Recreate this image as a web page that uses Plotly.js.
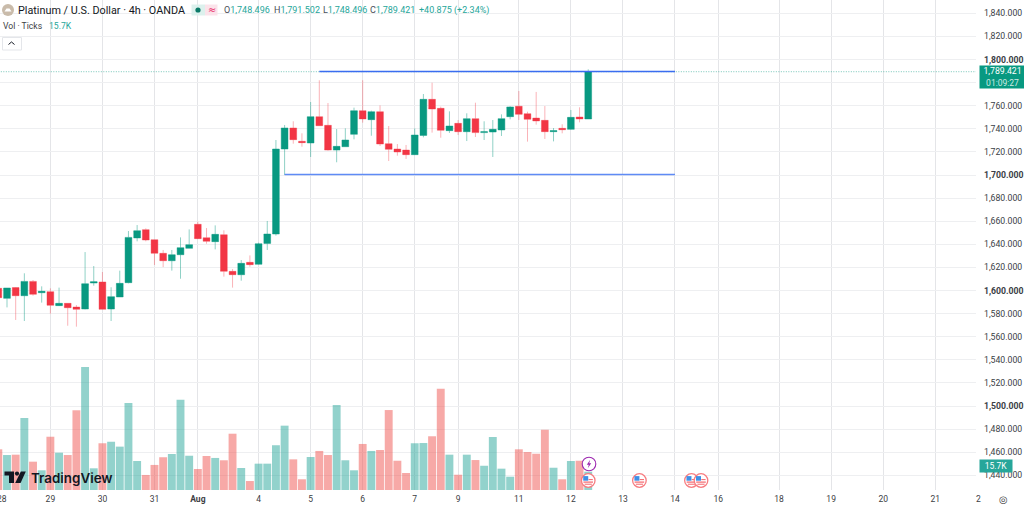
<!DOCTYPE html>
<html><head><meta charset="utf-8">
<script src="https://cdn.plot.ly/plotly-3.0.1.min.js"></script>
<style>html,body{margin:0;padding:0;background:#fff;overflow:hidden}#c{width:1024px;height:506px}</style>
</head><body><div id="c"></div>
<script>
const opens=[1601.9,1593.2,1602.5,1595.5,1607.9,1598.1,1599.0,1586.9,1588.9,1585.7,1584.0,1606.5,1607.4,1584.0,1594.4,1606.8,1645.5,1652.7,1644.0,1632.2,1625.8,1631.0,1636.5,1657.3,1645.7,1642.3,1648.3,1616.6,1613.7,1624.4,1622.7,1640.8,1648.9,1722.5,1740.7,1729.2,1727.7,1750.5,1743.0,1721.6,1724.5,1735.2,1755.7,1747.9,1754.8,1727.1,1722.5,1721.6,1717.6,1734.3,1765.5,1757.7,1738.4,1744.7,1737.5,1748.8,1736.7,1737.2,1739.0,1750.5,1759.5,1753.1,1749.3,1747.3,1737.5,1740.4,1739.5,1750.2,1748.496];
const highs=[1601.9,1602.2,1602.8,1614.9,1609.1,1603.6,1601.9,1602.5,1588.9,1587.4,1633.3,1621.2,1616.0,1602.8,1617.2,1651.5,1656.7,1653.8,1644.0,1635.1,1635.1,1646.0,1652.9,1659.6,1654.1,1656.4,1652.1,1618.6,1626.4,1630.4,1641.4,1660.2,1730.3,1743.3,1746.5,1736.1,1763.2,1782.0,1762.3,1739.8,1740.4,1758.3,1782.0,1755.7,1760.3,1742.4,1726.8,1726.0,1740.4,1770.1,1779.9,1759.2,1755.1,1747.6,1753.4,1762.6,1746.5,1747.6,1752.5,1759.5,1772.7,1754.8,1771.9,1759.7,1740.7,1743.9,1756.3,1758.6,1791.502];
const lows=[1593.8,1585.4,1574.5,1573.6,1595.5,1589.5,1579.9,1586.6,1569.5,1568.7,1583.7,1604.2,1583.7,1573.6,1594.4,1606.2,1642.6,1642.6,1622.1,1620.3,1617.2,1610.2,1636.5,1644.6,1640.5,1635.6,1612.0,1602.5,1608.5,1620.6,1622.4,1635.1,1647.5,1700.0,1727.1,1724.5,1715.6,1742.7,1721.1,1711.0,1724.5,1730.9,1745.3,1734.0,1725.1,1712.1,1716.7,1713.9,1717.3,1732.6,1736.7,1732.3,1736.4,1734.6,1729.4,1732.9,1730.3,1715.6,1733.8,1748.2,1747.6,1728.9,1743.6,1731.2,1729.1,1736.1,1739.2,1745.6,1748.496];
const closes=[1593.8,1602.2,1595.5,1607.9,1596.7,1599.3,1587.2,1588.9,1585.1,1583.7,1605.9,1607.6,1583.7,1594.7,1606.2,1646.0,1651.8,1643.7,1632.2,1625.8,1631.0,1637.1,1639.7,1644.9,1642.6,1648.6,1616.6,1613.7,1623.5,1622.4,1640.5,1648.9,1722.5,1740.7,1730.6,1728.0,1750.5,1742.7,1721.6,1724.8,1730.3,1755.7,1748.5,1754.8,1726.8,1722.2,1719.9,1717.6,1734.6,1765.5,1757.1,1738.7,1742.4,1737.5,1748.8,1736.7,1737.5,1739.5,1748.8,1758.9,1752.5,1748.2,1746.8,1737.5,1738.4,1739.2,1749.9,1748.5,1789.421];
const volumesK=[34.9,30.0,30.3,61.8,24.3,16.9,45.7,32.0,30.0,68.4,105.5,18.6,40.1,41.4,37.2,74.6,24.9,12.9,21.5,28.1,30.9,77.5,29.4,18.0,29.2,27.5,25.5,48.3,18.9,7.7,22.6,22.6,38.4,55.2,26.3,9.2,28.3,33.5,30.0,72.9,25.5,16.9,39.5,33.5,34.3,68.6,25.1,14.6,40.1,40.3,46.1,86.9,30.3,13.1,30.3,25.7,20.8,45.5,18.3,11.4,34.9,32.6,31.1,51.7,19.1,9.2,24.9,25.1,15.7];
const barIndex=closes.map((_,i)=>i-1);
const dateTickPos=[5,11,17,22,29,35,41,47,52,59,65,71,77,82,89,95,101,107];
const dateTickText=['29','30','31','<b>Aug</b>','4','5','6','7','9','11','12','13','14','16','18','19','20','21'];
const priceTicks=[1440,1460,1480,1500,1520,1540,1560,1580,1600,1620,1640,1660,1680,1700,1720,1740,1760,1780,1800,1820,1840];
const priceTickText=['1,440.000','1,460.000','1,480.000','<b>1,500.000</b>','1,520.000','1,540.000','1,560.000','1,580.000','<b>1,600.000</b>','1,620.000','1,640.000','1,660.000','1,680.000','<b>1,700.000</b>','1,720.000','1,740.000','1,760.000','','<b>1,800.000</b>','1,820.000','1,840.000'];
const resistanceX=[36,77], resistanceY=[1789.6,1789.6];
const supportX=[32,77], supportY=[1700.4,1700.4];
const lastPriceX=[-1,112], lastPriceY=[1789.421,1789.421];
const eventPos=[67,72.9,78.9,80];

const W=976,H=490;
const px=x=>x/W, py=y=>(H-y)/H;
const FONT='Roboto, sans-serif', INK='#131722', UP='#089981', DOWN='#F23645', LABEL='#3c4043';
const xToPx=i=>7+i*8.675;

function P(d,o){return Object.assign({type:'path',xref:'paper',yref:'paper',path:d,line:{width:0},layer:'above'},o);}
function pt(x,y){return px(x).toFixed(5)+','+py(y).toFixed(5);}
function poly(a){return 'M'+a.map(p=>pt(p[0],p[1])).join(' L')+' Z';}
function open(a){return 'M'+a.map(p=>pt(p[0],p[1])).join(' L');}
function circle(cx,cy,r,fill,lc,lw){return {type:'circle',xref:'paper',yref:'paper',x0:px(cx-r),x1:px(cx+r),y0:py(cy+r),y1:py(cy-r),fillcolor:fill,line:{color:lc||fill,width:lw||0},layer:'above'};}
function rect(x0,y0,x1,y1,fill,lc,lw){return {type:'rect',xref:'paper',yref:'paper',x0:px(x0),x1:px(x1),y0:py(y1),y1:py(y0),fillcolor:fill,line:{color:lc||fill,width:lw||0},layer:'above'};}

const shapes=[];
shapes.push(circle(8,10,6,'#c9bbaa'));
shapes.push(P(poly([[4.5,11.5],[6.5,8.5],[9.5,8.5],[11.5,11.5]]),{fillcolor:'#ffffff'}));
shapes.push(rect(191.5,4.5,205,15.5,'#dcf1ed'));
shapes.push(rect(205,4.5,217.5,15.5,'#fbe3ea'));
shapes.push(circle(198,10,2.6,'#0b7a68'));
shapes.push(rect(2.5,37.5,21.5,50,'#ffffff','#e4e6ea',1));
shapes.push(P(open([[8.5,44.5],[11.5,42],[14.5,44.5]]),{line:{color:INK,width:1}}));
shapes.push(P(poly([[4.5,471.5],[14,471.5],[14,483],[9,483],[9,475.5],[4.5,475.5]]),{fillcolor:INK}));
shapes.push(circle(17,473.6,2.1,INK));
shapes.push(P(poly([[20.8,471.5],[25.8,471.5],[20.6,483],[15.2,483]]),{fillcolor:INK}));
eventPos.forEach(i=>{
  const cx=xToPx(i),cy=480.5;
  shapes.push(circle(cx,cy,6.8,'#ffffff','#f77c80',1.3));
  shapes.push(rect(cx-4.8,cy+1,cx+4.8,cy+2.2,'#f4646a'));
  shapes.push(rect(cx-3.6,cy+3.2,cx+3.6,cy+4.2,'#f4646a'));
  shapes.push(rect(cx+0.3,cy-1.4,cx+4.6,cy-0.4,'#f4646a'));
  shapes.push(rect(cx-5,cy-4.4,cx+0,cy+0.2,'#3f8fe6'));
});
shapes.push(circle(589,464,6.8,'#ffffff','#9c27b0',1.1));
shapes.push(P(poly([[590.2,459.8],[586.8,464.8],[588.8,464.8],[587.8,468.2],[591.2,463.2],[589.2,463.2]]),{fillcolor:'#9c27b0'}));

const ann=(text,x,y,o)=>Object.assign({xref:'paper',yref:'paper',x:px(x),y:py(y),text,showarrow:false,xanchor:'left',yanchor:'middle',font:{family:FONT,size:9,color:INK},borderpad:0},o||{});
const g=s=>'<span style="color:#26a69a">'+s+'</span>';
const annotations=[
 ann('Platinum / U.S. Dollar · 4h · OANDA',17,10,{font:{family:FONT,size:10.8,color:INK}}),
 ann('≈',206.5,9.5,{font:{family:'DejaVu Sans',size:10,color:'#e91e63'}}),
 ann('O'+g('1,748.496'),223,10,{font:{family:FONT,size:9,color:'#4a4e57'}}),
 ann('H'+g('1,791.502'),272.7,10,{font:{family:FONT,size:9,color:'#4a4e57'}}),
 ann('L'+g('1,748.496'),321.7,10,{font:{family:FONT,size:9,color:'#4a4e57'}}),
 ann('C'+g('1,789.421'),369,10,{font:{family:FONT,size:9,color:'#4a4e57'}}),
 ann(g('+40.875 (+2.34%)'),418,10,{font:{family:FONT,size:9,color:'#26a69a'}}),
 ann('Vol · Ticks',2,26,{font:{family:FONT,size:8.6,color:'#3c4043'}}),
 ann('15.7K',48,26,{font:{family:FONT,size:8.6,color:'#26a69a'}}),
 ann('TradingView',29.5,477.5,{font:{family:'Inter, sans-serif',size:13.4,color:INK,weight:600}}),
 ann('28',-4.5,499,{font:{family:FONT,size:8.5,color:LABEL}}),
 ann('2',974.5,499,{font:{family:FONT,size:8.5,color:LABEL}}),
 ann('◎',998,499,{font:{family:'DejaVu Sans',size:10,color:'#3c4043'}}),
 ann('1,789.421<br><span style="font-size:8.5px;color:#cfe9e3">01:09:27</span>',979,76.8,{width:45,height:22,align:'center',bgcolor:UP,font:{family:FONT,size:8.7,color:'#ffffff'},xanchor:'left'}),
 ann('15.7K',979,466,{width:32,height:12,align:'center',bgcolor:'#26a69a',font:{family:FONT,size:8.5,color:'#ffffff'}})
];

const traces=[
 {type:'bar',x:barIndex,y:volumesK,yaxis:'y2',hoverinfo:'skip',
  marker:{color:closes.map((c,i)=>c>=opens[i]?'rgba(38,166,154,0.5)':'rgba(239,83,80,0.5)'),line:{width:0}}},
 {type:'scatter',mode:'lines',x:lastPriceX,y:lastPriceY,hoverinfo:'skip',line:{color:'rgba(8,153,129,0.55)',width:1,dash:'1px,1.5px'}},
 {type:'candlestick',x:barIndex,open:opens,high:highs,low:lows,close:closes,hoverinfo:'skip',whiskerwidth:0,
  increasing:{line:{color:'rgba(8,153,129,0.45)',width:1},fillcolor:UP},
  decreasing:{line:{color:'rgba(242,54,69,0.38)',width:1},fillcolor:DOWN}},
 {type:'scatter',mode:'lines',x:resistanceX,y:resistanceY,hoverinfo:'skip',line:{color:'#3a6df0',width:1.3}},
 {type:'scatter',mode:'lines',x:supportX,y:supportY,hoverinfo:'skip',line:{color:'#5f8bf5',width:1.5}}
];

const layout={
 width:1024,height:506,margin:{l:0,r:48,t:0,b:16,pad:0},paper_bgcolor:'#fff',plot_bgcolor:'#fff',
 showlegend:false,bargap:0.09,boxgap:0.22,boxgroupgap:0,hovermode:false,
 xaxis:{range:[-0.807,111.7],rangeslider:{visible:false},tickmode:'array',tickvals:dateTickPos,ticktext:dateTickText,
  showgrid:true,gridcolor:'#e4e5e8',gridwidth:1,zeroline:false,showline:false,ticks:'',ticklabelstandoff:2,
  tickangle:0,tickfont:{family:FONT,size:8.5,color:LABEL}},
 yaxis:{range:[1427.3,1851.5],side:'right',tickmode:'array',tickvals:priceTicks,ticktext:priceTickText,
  showgrid:true,gridcolor:'#eeeff1',gridwidth:1,zeroline:false,showline:false,ticks:'',ticklabelstandoff:7,
  tickfont:{family:FONT,size:8.7,color:'#3a3e46'}},
 yaxis2:{overlaying:'y',range:[0,420.4],visible:false,showgrid:false,zeroline:false,fixedrange:true},
 shapes,annotations
};
Plotly.newPlot('c',traces,layout,{displayModeBar:false,staticPlot:true});
</script></body></html>
